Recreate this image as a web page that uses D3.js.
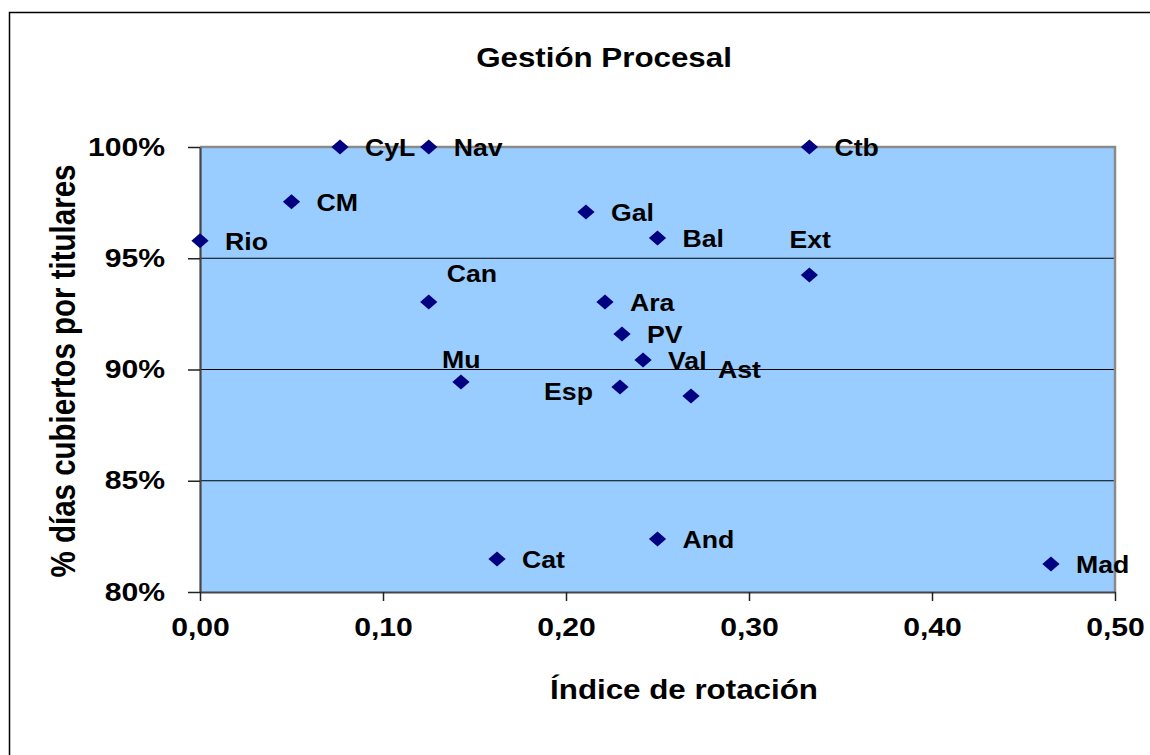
<!DOCTYPE html>
<html>
<head>
<meta charset="utf-8">
<script src="https://cdn.jsdelivr.net/npm/d3@7"></script>
<style>
  body { margin: 0; background: #fff; }
  text { font-family: "Liberation Sans", Arial, sans-serif; font-weight: bold; fill: #000; }
</style>
</head>
<body>
<svg width="1150" height="755"></svg>
<script>
// comunidades autonomas
var regions = ["Rio", "CM", "CyL", "Nav", "Can", "Mu", "Cat", "Gal", "Ara", "Esp",
               "PV", "Val", "Bal", "And", "Ast", "Ctb", "Ext", "Mad"];
var rotation = [0.000, 0.050, 0.0765, 0.125, 0.125, 0.1426, 0.1623, 0.2109, 0.2213, 0.2295,
                0.2306, 0.2421, 0.250, 0.250, 0.2683, 0.333, 0.333, 0.465];
var coverage = [0.9579, 0.9754, 1.000, 1.000, 0.9303, 0.8944, 0.8148, 0.9708, 0.9303, 0.8921,
                0.9160, 0.9043, 0.9591, 0.8238, 0.8881, 1.000, 0.9425, 0.8126];

var xTicks = [0, 0.1, 0.2, 0.3, 0.4, 0.5];
var yTicks = [0.80, 0.85, 0.90, 0.95, 1.00];
var gridTicks = [0.85, 0.90, 0.95];

var title = "Gestión Procesal",
    xTitle = "Índice de rotación",
    yTitle = "% días cubiertos por titulares";

// label placement (excel moved some by hand)
var labelOffset = {
    Ext: [-20, -27],
    Can: [18, -20],
    Mu: [-19, -14],
    Esp: [-27, 13, "end"],
    Ast: [27, -18]
};

var svg = d3.select("svg"),
    sx = 1.16; // the picture is stretched horizontally

var x = d3.scaleLinear().domain([0, 0.5]).range([200, 1115]),
    y = d3.scaleLinear().domain([0.8, 1.0]).range([592, 147]);

var locale = d3.formatLocale({decimal: ",", thousands: ".", grouping: [3], currency: ["", " €"]});
var fmtX = locale.format(".2f"),
    fmtY = d3.format(".0%");

var points = regions.map(function(r, i) {
    return {name: r, x: rotation[i], y: coverage[i]};
});

// outer frame
svg.append("rect")
    .attr("x", 9.5).attr("y", 12.5)
    .attr("width", 1160).attr("height", 760)
    .attr("fill", "none")
    .attr("stroke", "#000")
    .attr("stroke-width", 1.5);

// plot area
svg.append("rect")
    .attr("x", x(0)).attr("y", y(1))
    .attr("width", x(0.5) - x(0))
    .attr("height", y(0.8) - y(1))
    .attr("fill", "#99ccff");

svg.append("g")
    .selectAll("line")
    .data(gridTicks)
    .enter().append("line")
        .attr("x1", x(0)).attr("x2", x(0.5))
        .attr("y1", function(d) { return y(d); })
        .attr("y2", function(d) { return y(d); })
        .attr("stroke", "#000")
        .attr("stroke-width", 1.2);

svg.append("path")
    .attr("d", "M" + x(0) + "," + y(1) + "H" + x(0.5) + "V" + y(0.8))
    .attr("fill", "none")
    .attr("stroke", "#8a8a8a")
    .attr("stroke-width", 2.5);

var yAxis = svg.append("g")
    .attr("transform", "translate(" + x(0) + ",0)")
    .call(d3.axisLeft(y).tickValues(yTicks).tickFormat(fmtY).tickSize(12).tickSizeOuter(0));

var xAxis = svg.append("g")
    .attr("transform", "translate(0," + y(0.8) + ")")
    .call(d3.axisBottom(x).tickValues(xTicks).tickFormat(fmtX).tickSize(9).tickSizeOuter(0));

[xAxis, yAxis].forEach(function(ax) {
    ax.select(".domain").attr("stroke", "#454545").attr("stroke-width", 2.2);
    ax.selectAll(".tick line").attr("stroke", "#222").attr("stroke-width", 1.5);
    ax.selectAll("text")
        .attr("font-size", 26)
        .attr("font-family", null)
        .attr("fill", "#000");
});

yAxis.selectAll(".tick text")
    .attr("x", null).attr("dy", null)
    .attr("text-anchor", "end")
    .attr("transform", "translate(-35,8) scale(" + sx + ",1)");

xAxis.selectAll(".tick text")
    .attr("y", null).attr("dy", null)
    .attr("text-anchor", "middle")
    .attr("transform", "translate(0,44) scale(" + sx + ",1)");

// markers
var diamond = d3.symbol().type(d3.symbolDiamond2).size(143);

svg.append("g")
    .selectAll("path")
    .data(points)
    .enter().append("path")
        .attr("d", diamond)
        .attr("transform", function(d) {
            return "translate(" + x(d.x) + "," + y(d.y) + ") scale(1.15,1)";
        })
        .attr("fill", "#000080");

svg.append("g")
    .selectAll("text")
    .data(points)
    .enter().append("text")
        .attr("font-size", 23)
        .attr("text-anchor", function(d) {
            var o = labelOffset[d.name];
            return o && o[2] ? o[2] : "start";
        })
        .attr("transform", function(d) {
            var o = labelOffset[d.name] || [25, 9];
            return "translate(" + (x(d.x) + o[0]) + "," + (y(d.y) + o[1]) + ") scale(" + sx + ",1)";
        })
        .text(function(d) { return d.name; });

// titles
svg.append("text")
    .attr("font-size", 27)
    .attr("text-anchor", "middle")
    .attr("transform", "translate(604,67) scale(" + sx + ",1)")
    .text(title);

svg.append("text")
    .attr("font-size", 27)
    .attr("text-anchor", "middle")
    .attr("transform", "translate(684,699) scale(" + sx + ",1)")
    .text(xTitle);

svg.append("text")
    .attr("font-size", 29.5)
    .attr("text-anchor", "middle")
    .attr("transform", "translate(75,371) scale(" + sx + ",1) rotate(-90)")
    .text(yTitle);
</script>
</body>
</html>
